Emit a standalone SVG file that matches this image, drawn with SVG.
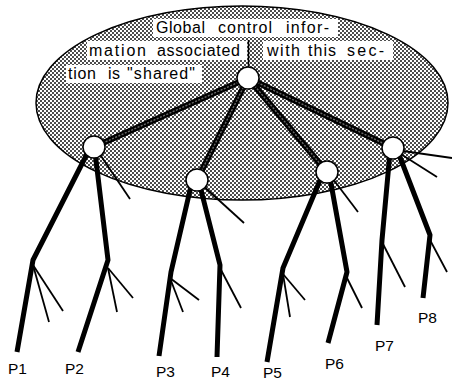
<svg xmlns="http://www.w3.org/2000/svg" width="452" height="380" viewBox="0 0 452 380">
  <defs>
    <!-- halftone dot screen for the shared region -->
    <pattern id="screen" width="4" height="4" patternUnits="userSpaceOnUse">
      <rect width="4" height="4" fill="#fff"/>
      <circle cx="1" cy="1" r="0.95" fill="#000"/>
      <circle cx="3" cy="3" r="0.95" fill="#000"/>
    </pattern>
  </defs>
  <style>
    .thick { stroke: #000; stroke-width: 6; fill: none; stroke-linejoin: round; }
    .core { stroke: #6a6a6a; stroke-width: 1.4; fill: none; stroke-dasharray: 2 1.5; stroke-linejoin: round; }
    .limb { stroke: #000; stroke-width: 5; fill: none; stroke-linejoin: round; }
    .thin { stroke: #000; stroke-width: 1.8; fill: none; }
    .node { fill: #fff; stroke: #000; stroke-width: 1.5; }
    .box { fill: #fff; }
    .note { font-family: "Liberation Sans", Arial, sans-serif; font-size: 16px; fill: #000; }
    .label { font-family: "Liberation Sans", Arial, sans-serif; font-size: 15.5px; fill: #000; }
  </style>

  <!-- shared region -->
  <g id="region">
    <ellipse cx="242" cy="103" rx="206" ry="97" fill="url(#screen)" stroke="#000" stroke-width="1.5"/>
  </g>

  <!-- annotation text, justified word by word -->
  <g id="note">
    <rect class="box" x="153" y="19" width="185" height="18"/>
    <rect class="box" x="87" y="41" width="160" height="19"/>
    <rect class="box" x="263" y="41" width="130" height="19"/>
    <rect class="box" x="66" y="65" width="136" height="18"/>
    <line x1="248.5" y1="40" x2="248.5" y2="70" stroke="#000" stroke-width="1.5"/>
    <text class="note" x="156" y="33" textLength="49" lengthAdjust="spacing">Global</text>
    <text class="note" x="218" y="33" textLength="54" lengthAdjust="spacing">control</text>
    <text class="note" x="286" y="33" textLength="43" lengthAdjust="spacing">infor-</text>
    <text class="note" x="89" y="56" textLength="57" lengthAdjust="spacing">mation</text>
    <text class="note" x="157" y="56" textLength="83" lengthAdjust="spacing">associated</text>
    <text class="note" x="267" y="56" textLength="33" lengthAdjust="spacing">with</text>
    <text class="note" x="308" y="56" textLength="28" lengthAdjust="spacing">this</text>
    <text class="note" x="347" y="56" textLength="37" lengthAdjust="spacing">sec-</text>
    <text class="note" x="68" y="79" textLength="28" lengthAdjust="spacing">tion</text>
    <text class="note" x="108" y="79" textLength="12" lengthAdjust="spacing">is</text>
    <text class="note" x="127" y="79" textLength="68" lengthAdjust="spacing">"shared"</text>
  </g>

  <!-- connectors -->
  <g id="connectors">
    <!-- root to second level -->
    <g>
      <line class="thick" x1="248" y1="78" x2="94" y2="147"/>
      <line class="thick" x1="248" y1="78" x2="197" y2="180"/>
      <line class="thick" x1="248" y1="78" x2="327" y2="172"/>
      <line class="thick" x1="248" y1="78" x2="393" y2="148"/>
      <line class="core" x1="248" y1="78" x2="94" y2="147"/>
      <line class="core" x1="248" y1="78" x2="197" y2="180"/>
      <line class="core" x1="248" y1="78" x2="327" y2="172"/>
      <line class="core" x1="248" y1="78" x2="393" y2="148"/>
    </g>
    <!-- subtree under left node -->
    <g>
      <polyline class="limb" points="88,152 33,260 17,352"/>
      <polyline class="limb" points="95,152 108,260 78,352"/>
      <line class="thin" x1="97" y1="150" x2="130" y2="199"/>
      <line class="thin" x1="33" y1="265" x2="49" y2="322"/>
      <line class="thin" x1="33" y1="265" x2="63" y2="311"/>
      <line class="thin" x1="108" y1="268" x2="117" y2="312"/>
      <line class="thin" x1="108" y1="268" x2="133" y2="298"/>
    </g>
    <!-- subtree under second node -->
    <g>
      <polyline class="limb" points="191,186 171,272 159,356"/>
      <polyline class="limb" points="200,186 220,265 217,357"/>
      <line class="thin" x1="200" y1="183" x2="244" y2="223"/>
      <line class="thin" x1="170" y1="278" x2="183" y2="312"/>
      <line class="thin" x1="170" y1="278" x2="199" y2="300"/>
      <line class="thin" x1="220" y1="268" x2="241" y2="308"/>
    </g>
    <!-- subtree under third node -->
    <g>
      <polyline class="limb" points="321,178 283,268 267,362"/>
      <polyline class="limb" points="330,178 347,272 328,343"/>
      <line class="thin" x1="330" y1="175" x2="358" y2="212"/>
      <line class="thin" x1="283" y1="274" x2="290" y2="317"/>
      <line class="thin" x1="283" y1="274" x2="305" y2="300"/>
      <line class="thin" x1="347" y1="278" x2="362" y2="308"/>
    </g>
    <!-- subtree under right node -->
    <g>
      <polyline class="limb" points="390,152 382,240 377,325"/>
      <polyline class="limb" points="398,152 430,235 423,298"/>
      <line class="thin" x1="396" y1="150" x2="452" y2="158"/>
      <line class="thin" x1="396" y1="151" x2="437" y2="177"/>
      <line class="thin" x1="383" y1="244" x2="405" y2="287"/>
      <line class="thin" x1="430" y1="240" x2="447" y2="272"/>
    </g>
  </g>

  <!-- nodes -->
  <g id="root"><circle class="node" cx="248" cy="78" r="11"/></g>
  <g id="n1"><circle class="node" cx="94" cy="147" r="11"/></g>
  <g id="n2"><circle class="node" cx="197" cy="180" r="11"/></g>
  <g id="n3"><circle class="node" cx="327" cy="172" r="11"/></g>
  <g id="n4"><circle class="node" cx="393" cy="148" r="11"/></g>

  <!-- leaf labels -->
  <g id="p1"><text class="label" x="8" y="374">P1</text></g>
  <g id="p2"><text class="label" x="65" y="374">P2</text></g>
  <g id="p3"><text class="label" x="156" y="377">P3</text></g>
  <g id="p4"><text class="label" x="211" y="377">P4</text></g>
  <g id="p5"><text class="label" x="263" y="378">P5</text></g>
  <g id="p6"><text class="label" x="325" y="369">P6</text></g>
  <g id="p7"><text class="label" x="375" y="351">P7</text></g>
  <g id="p8"><text class="label" x="418" y="323">P8</text></g>
</svg>
